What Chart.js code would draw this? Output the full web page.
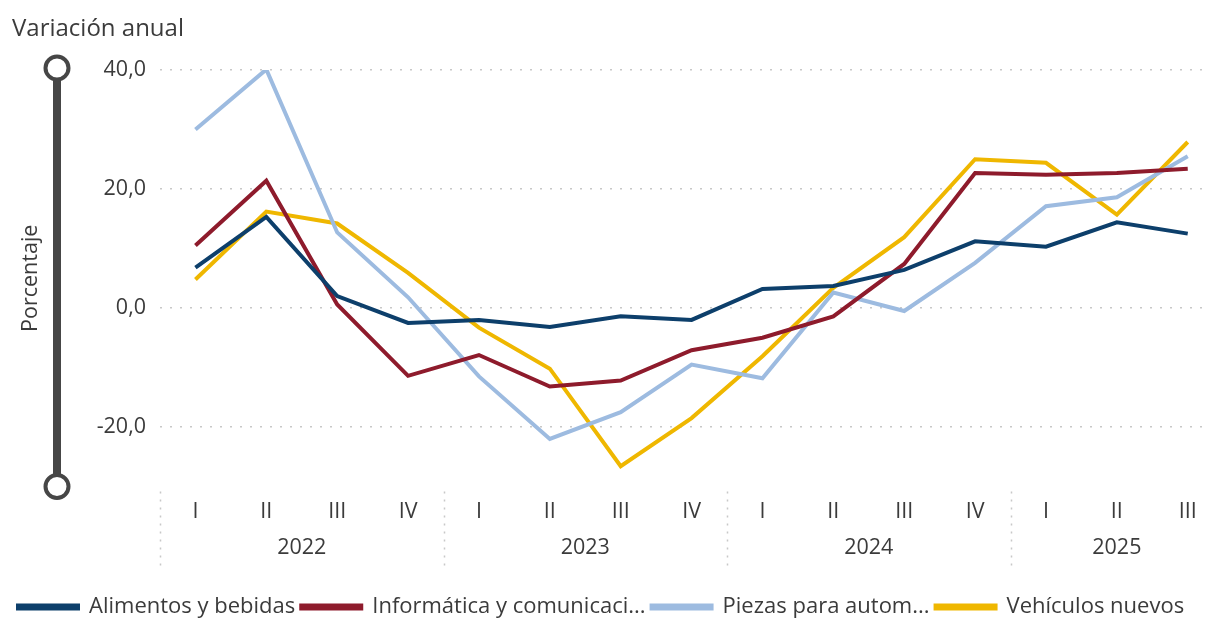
<!DOCTYPE html>
<html>
<head>
<meta charset="utf-8">
<script src="https://cdn.jsdelivr.net/npm/chart.js@4.4.0/dist/chart.umd.min.js"></script>
<style>
  html, body { margin: 0; padding: 0; background: #fff; }
  #wrap { width: 1209px; height: 620px; }
</style>
</head>
<body>
<div id="wrap"><canvas id="chart"></canvas></div>
<script>
// ========================== DATA ==============================
const quarters = ['I', 'II', 'III', 'IV', 'I', 'II', 'III', 'IV', 'I', 'II', 'III', 'IV', 'I', 'II', 'III'];
const years = ['2022', '2023', '2024', '2025'];
const quartersPerYear = [4, 4, 4, 3];

const alimentos   = [6.8, 15.3, 2.0, -2.5, -2.0, -3.2, -1.4, -2.0, 3.2, 3.7, 6.4, 11.2, 10.3, 14.4, 12.5];
const informatica = [10.5, 21.4, 0.6, -11.4, -7.9, -13.2, -12.2, -7.1, -5.0, -1.4, 7.4, 22.7, 22.4, 22.7, 23.4];
const piezas      = [30.0, 40.1, 12.7, 1.8, -11.5, -22.0, -17.5, -9.5, -11.8, 2.6, -0.5, 7.6, 17.1, 18.6, 25.5];
const vehiculos   = [4.8, 16.2, 14.2, 5.9, -3.3, -10.2, -26.6, -18.5, -8.1, 3.4, 11.9, 25.0, 24.4, 15.7, 27.9];

const seriesNames = ['Alimentos y bebidas', 'Informática y comunicaci...', 'Piezas para autom...', 'Vehículos nuevos'];
const yTicks = [-20, 0, 20, 40];

// ========================== HELPERS ============================
const FONT = "'Segoe UI', 'Open Sans', sans-serif";
const TEXT = '#3b3b3b';
const TICK_SIZE = 21.5;

// year group centres and boundaries, in quarter index units
const yearCenters = [];
const yearBounds = [];
let start = 0;
quartersPerYear.forEach(n => {
  yearBounds.push(start - 0.5);
  yearCenters.push(start + (n - 1) / 2);
  start += n;
});

const toPoints = arr => arr.map((v, i) => ({ x: i, y: v }));
const fmt = v => v.toFixed(1).replace('.', ',');

function line(label, data, color) {
  return {
    label,
    data: toPoints(data),
    borderColor: color,
    backgroundColor: color,
    borderWidth: 4,
    pointRadius: 0,
    tension: 0,
    fill: false
  };
}

// ========================== PLUGINS ============================
const decorations = {
  id: 'decorations',
  afterDraw(chart) {
    const ctx = chart.ctx;
    const area = chart.chartArea;
    const x = chart.scales.x;
    const x2 = chart.scales.x2;

    // year separators under the plot
    ctx.save();
    ctx.strokeStyle = '#c8c8c8';
    ctx.lineWidth = 1.5;
    ctx.setLineDash([2, 6]);
    yearBounds.forEach(b => {
      const px = Math.round(x.getPixelForValue(b)) + 0.5;
      ctx.beginPath();
      ctx.moveTo(px, area.bottom + 5);
      ctx.lineTo(px, x2.top + 40);
      ctx.stroke();
    });
    ctx.restore();

    // slider-like bar beside the y axis
    ctx.save();
    const sx = 57;
    const top = area.top - 2;
    const bot = area.bottom;
    ctx.strokeStyle = '#464646';
    ctx.lineWidth = 8;
    ctx.beginPath();
    ctx.moveTo(sx, top);
    ctx.lineTo(sx, bot);
    ctx.stroke();
    ctx.lineWidth = 4;
    ctx.fillStyle = '#fff';
    [top, bot].forEach(cy => {
      ctx.beginPath();
      ctx.arc(sx, cy, 11.5, 0, Math.PI * 2);
      ctx.fill();
      ctx.stroke();
    });
    ctx.restore();
  }
};

// ========================== CHART ==============================
new Chart(document.getElementById('chart'), {
  type: 'line',
  data: {
    datasets: [
      line(seriesNames[0], alimentos, '#0d3f6b'),
      line(seriesNames[1], informatica, '#8e1b2c'),
      line(seriesNames[2], piezas, '#9dbbe0'),
      line(seriesNames[3], vehiculos, '#efb700')
    ]
  },
  options: {
    responsive: true,
    maintainAspectRatio: false,
    animation: false,
    layout: { padding: { left: 12, right: 0, top: 0, bottom: -8 } },
    plugins: {
      title: {
        display: true,
        text: 'Variación anual',
        align: 'start',
        color: TEXT,
        font: { family: FONT, size: 24, weight: 'normal' },
        padding: { top: 14.6, bottom: 26.6 }
      },
      legend: {
        position: 'bottom',
        align: 'start',
        labels: {
          color: TEXT,
          font: { family: FONT, size: 22 },
          boxWidth: 60,
          boxHeight: 3,
          padding: 6
        }
      },
      tooltip: { enabled: false }
    },
    scales: {
      x: {
        type: 'linear',
        min: -0.5,
        max: 14.3,
        weight: 0,
        afterBuildTicks: s => { s.ticks = quarters.map((q, i) => ({ value: i })); },
        afterFit: s => { s.height = 40; },
        ticks: {
          color: TEXT,
          font: { family: FONT, size: TICK_SIZE },
          padding: 12,
          maxRotation: 0,
          autoSkip: false,
          callback: v => quarters[v]
        },
        grid: { display: false, drawTicks: false },
        border: { display: false }
      },
      x2: {
        type: 'linear',
        position: 'bottom',
        min: -0.5,
        max: 14.3,
        weight: 1,
        afterBuildTicks: s => { s.ticks = yearCenters.map(c => ({ value: c })); },
        afterFit: s => { s.height = 63.5; },
        ticks: {
          color: TEXT,
          font: { family: FONT, size: TICK_SIZE },
          padding: 8,
          maxRotation: 0,
          autoSkip: false,
          callback: v => years[yearCenters.indexOf(v)]
        },
        grid: { display: false, drawTicks: false },
        border: { display: false }
      },
      y: {
        min: -30,
        max: 40,
        afterBuildTicks: s => { s.ticks = yTicks.map(v => ({ value: v })); },
        afterFit: s => { s.width = 148; },
        title: {
          display: true,
          text: 'Porcentaje',
          color: TEXT,
          font: { family: FONT, size: TICK_SIZE },
          padding: { top: 6, bottom: 0 }
        },
        ticks: {
          color: TEXT,
          font: { family: FONT, size: TICK_SIZE },
          padding: 14,
          callback: v => fmt(v)
        },
        grid: {
          color: '#c8c8c8',
          lineWidth: 1.5,
          drawTicks: false
        },
        border: { display: false, dash: [2, 8] }
      }
    }
  },
  plugins: [decorations]
});
</script>
</body>
</html>
